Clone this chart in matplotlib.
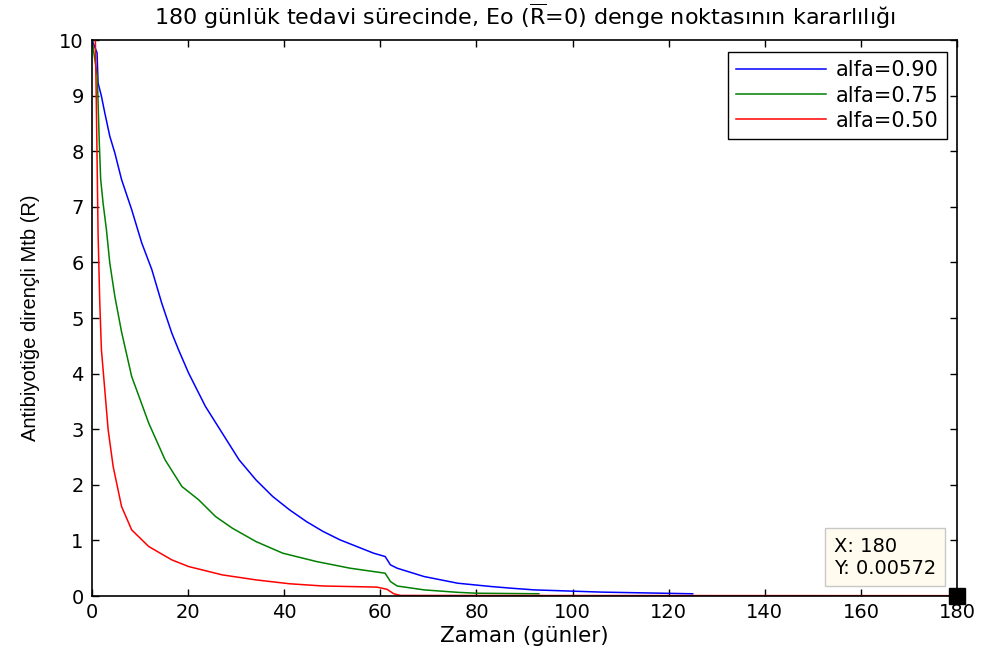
import matplotlib
matplotlib.use("Agg")
import matplotlib.pyplot as plt

plt.rcParams['font.family'] = ['DejaVu Sans']
plt.rcParams['mathtext.fontset'] = 'dejavusans'

title = r"180 günlük tedavi sürecinde, Eo ($\overline{\mathrm{R}}$=0) denge noktasının kararlılığı"
xlabel = "Zaman (günler)"
ylabel = "Antibiyotiğe dirençli Mtb (R)"

x_090 = [0, 1.05, 1.26, 1.96, 2.66, 3.7, 4.75, 6.15, 8.25, 10.35, 12.45, 14.5, 16.6, 18.0, 20.1,
         23.6, 27.1, 30.6, 34.1, 37.6, 41.1, 44.6, 48.1, 51.6, 55.1, 58.6, 61.0, 62.1, 63.5,
         69.1, 76.1, 83.1, 87.3, 92, 106, 125]
y_090 = [10, 9.77, 9.23, 8.99, 8.69, 8.27, 7.97, 7.49, 6.95, 6.35, 5.87, 5.27, 4.73, 4.43, 4.01,
         3.41, 2.93, 2.45, 2.09, 1.79, 1.55, 1.34, 1.16, 1.01, 0.89, 0.77, 0.71, 0.56, 0.50,
         0.35, 0.23, 0.17, 0.14, 0.11, 0.07, 0.04]

x_075 = [0, 1.1, 1.5, 1.8, 2.3, 3.0, 3.7, 4.75, 6.15, 8.25, 11.8, 15.2, 18.7, 22.2, 25.7, 29.2,
         34.1, 39.7, 46.7, 53.7, 61.0, 62.1, 63.5, 69.1, 76.1, 80, 93]
y_075 = [10, 9.35, 8.2, 7.5, 7.07, 6.59, 5.99, 5.39, 4.75, 3.95, 3.11, 2.45, 1.97, 1.73, 1.43, 1.22,
         0.98, 0.77, 0.62, 0.50, 0.41, 0.26, 0.18, 0.11, 0.066, 0.05, 0.04]

x_050 = [0, 0.7, 0.9, 1.26, 1.6, 1.96, 2.66, 3.36, 4.4, 6.15, 8.25, 11.8, 16.6, 20.1, 27.1, 34.1,
         41.1, 48.1, 59.3, 61.4, 62.8, 64.2, 80, 100, 140, 180]
y_050 = [10, 10, 8.87, 6.53, 5.33, 4.43, 3.71, 2.99, 2.33, 1.61, 1.19, 0.89, 0.65, 0.53, 0.38, 0.29,
         0.22, 0.18, 0.16, 0.12, 0.04, 0.01, 0.009, 0.008, 0.007, 0.00572]

series = [(x_090, y_090, "#0000ff", "alfa=0.90"),
          (x_075, y_075, "#008000", "alfa=0.75"),
          (x_050, y_050, "#ff0000", "alfa=0.50")]

tip_x = 180
tip_y = 0.00572

fig = plt.figure(figsize=(9.81, 6.58), dpi=100)
ax = fig.add_axes([92/981, 1-596/658, (957-92)/981, (596-40)/658])

for xs, ys, c, lab in series:
    ax.plot(xs, ys, color=c, lw=1.1, label=lab)

ax.set_xlim(0, 180)
ax.set_ylim(0, 10)
ax.set_xticks(range(0, 181, 20))
ax.set_yticks(range(0, 11, 1))
ax.tick_params(direction='in', top=True, right=True, length=5, width=1, labelsize=14)
ax.tick_params(axis='x', pad=5)
ax.tick_params(axis='y', pad=6)
for s in ax.spines.values():
    s.set_linewidth(1.2)

ax.set_title(title, fontsize=16, pad=11)
ax.set_xlabel(xlabel, fontsize=15.5, labelpad=3)
ax.set_ylabel(ylabel, fontsize=14.5, labelpad=14, family='Liberation Sans')

leg = ax.legend(loc='upper right', fontsize=15, fancybox=False, edgecolor='black',
                framealpha=1, handlelength=4.3, handletextpad=0.48, borderpad=0.4,
                labelspacing=0.25, bbox_to_anchor=(0.9884, 0.9784), borderaxespad=0)
leg.get_frame().set_linewidth(1.0)

ax.plot([tip_x], [tip_y], marker='s', color='black', markersize=11, clip_on=False, zorder=10)
ax.annotate(f"X: {tip_x}\nY: {tip_y}", xy=(tip_x, tip_y), xytext=(-21, 18),
            textcoords='offset pixels', fontsize=14, va='bottom', ha='right',
            multialignment='left',
            bbox=dict(boxstyle='square,pad=0.45', fc='#fffbee', ec='#c8c8c8', lw=1))

fig.savefig("out.png", dpi=100)
